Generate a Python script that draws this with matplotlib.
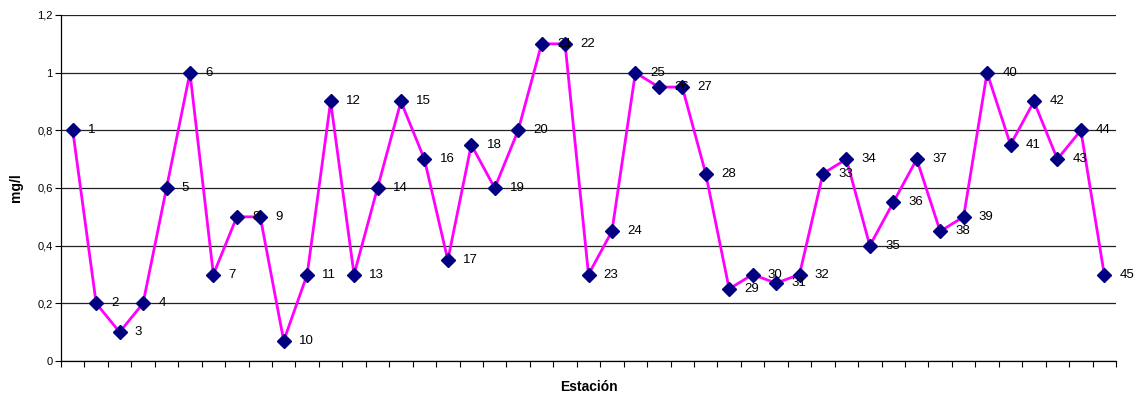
import matplotlib.pyplot as plt
from matplotlib.ticker import FuncFormatter, FixedLocator

plt.rcParams['font.family'] = ['Liberation Sans', 'DejaVu Sans']

# station numbers and measured concentration (mg/l)
estaciones = list(range(1, 46))
valores = [0.8, 0.2, 0.1, 0.2, 0.6, 1.0, 0.3, 0.5, 0.5, 0.07,
           0.3, 0.9, 0.3, 0.6, 0.9, 0.7, 0.35, 0.75, 0.6, 0.8,
           1.1, 1.1, 0.3, 0.45, 1.0, 0.95, 0.95, 0.65, 0.25, 0.3,
           0.27, 0.3, 0.65, 0.7, 0.4, 0.55, 0.7, 0.45, 0.5, 1.0,
           0.75, 0.9, 0.7, 0.8, 0.3]
y_ticks = [0, 0.2, 0.4, 0.6, 0.8, 1.0, 1.2]

fig = plt.figure(figsize=(11.41, 3.95), dpi=100)
ax = fig.add_axes([61 / 1141, 1 - 361 / 395, 1055 / 1141, 346 / 395])

ax.plot(estaciones, valores, color='#FF00FF', lw=2.0, zorder=3,
        marker='D', markersize=7, markerfacecolor='#000080',
        markeredgecolor='#000080')

# station number next to each point
for x, y in zip(estaciones, valores):
    ax.annotate(str(x), (x, y), xytext=(11, 0), textcoords='offset points',
                ha='left', va='center', fontsize=9.5, color='black', zorder=4)

ax.set_xlim(0.5, 45.5)
ax.set_ylim(0, 1.2)
ax.set_yticks(y_ticks)
ax.yaxis.set_major_formatter(FuncFormatter(
    lambda v, p: ('%g' % v).replace('.', ',')))
ax.grid(axis='y', color='#222222', lw=0.9, zorder=0)

# ticks between categories, no labels
ax.xaxis.set_major_locator(FixedLocator([i + 0.5 for i in range(0, 46)]))
ax.set_xticklabels([])
ax.tick_params(axis='x', direction='out', length=4, width=0.8)
ax.tick_params(axis='y', direction='out', length=4, width=0.8, labelsize=8, pad=2)

for s in ['top', 'right']:
    ax.spines[s].set_visible(False)
for s in ['left', 'bottom']:
    ax.spines[s].set_color('black')
    ax.spines[s].set_linewidth(0.9)

ax.set_ylabel('mg/l', fontsize=10, fontweight='bold', labelpad=10)
ax.set_xlabel('Estación', fontsize=10, fontweight='bold', labelpad=6)

fig.savefig('out.png', dpi=100)
